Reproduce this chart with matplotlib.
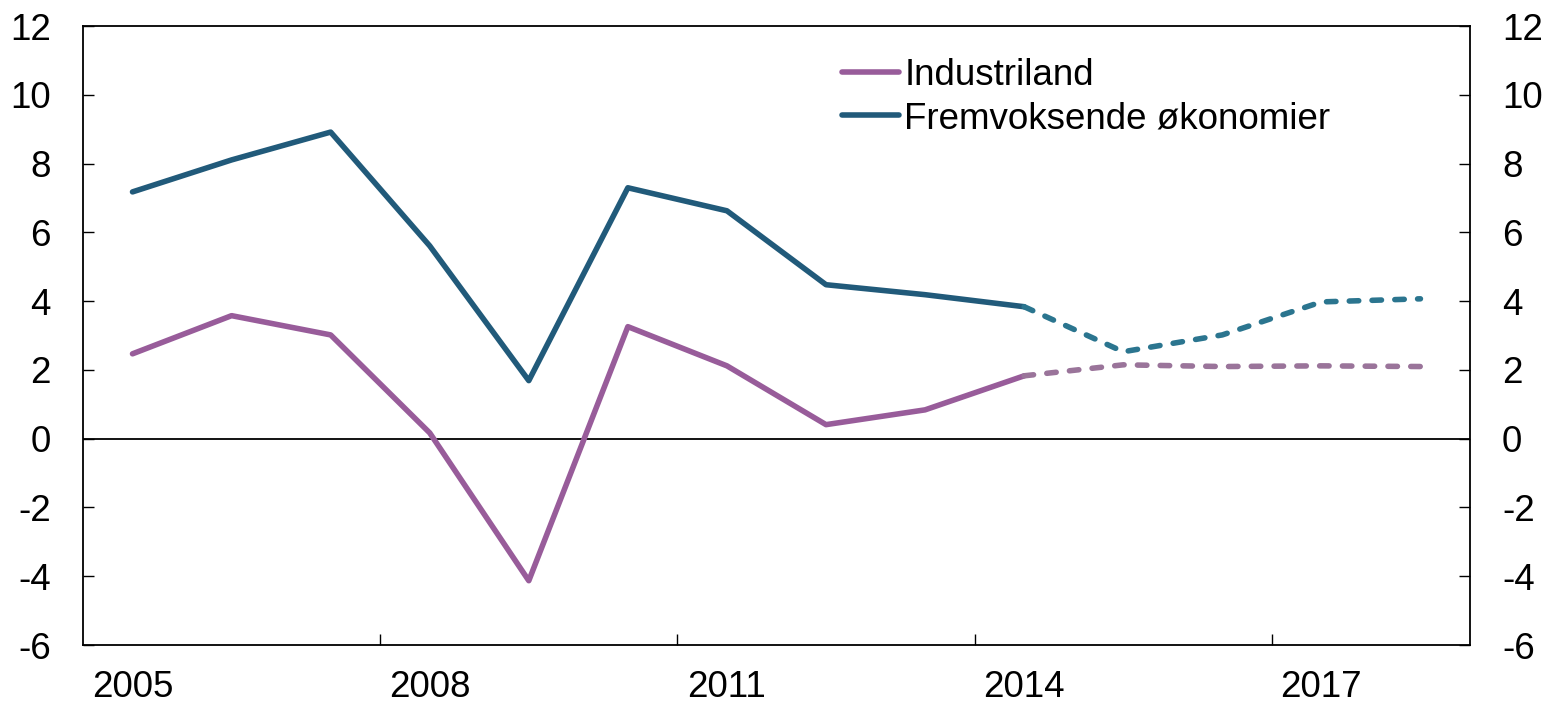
import matplotlib.pyplot as plt

plt.rcParams['font.family'] = ['Liberation Sans', 'DejaVu Sans']
plt.rcParams['axes.unicode_minus'] = False

years = list(range(2005, 2019))
industriland = [2.47, 3.58, 3.02, 0.17, -4.13, 3.26, 2.12, 0.41, 0.84, 1.83, 2.15, 2.10, 2.12, 2.10]
fremvoksende = [7.18, 8.11, 8.92, 5.61, 1.69, 7.30, 6.63, 4.48, 4.19, 3.84, 2.53, 3.02, 3.98, 4.07]
siste_faktisk = 2014  # prognose etter dette
tick_years = [2005, 2008, 2011, 2014, 2017]

col_ind = '#985c9a'
col_ind_prog = '#9a749a'
col_frem = '#215a7a'
col_frem_prog = '#2b758f'

fig = plt.figure(figsize=(15.48, 7.04), dpi=100)
ax = fig.add_axes([0.0536, 0.0838, 0.896, 0.879])

x = list(range(len(years)))
k = years.index(siste_faktisk)

ax.axhline(0, color='black', lw=1.3, zorder=1)
ax.plot(x[:k + 1], industriland[:k + 1], color=col_ind, lw=4, label='Industriland', solid_capstyle='round')
ax.plot(x[:k + 1], fremvoksende[:k + 1], color=col_frem, lw=4, label='Fremvoksende økonomier', solid_capstyle='round')
ax.plot(x[k:], industriland[k:], color=col_ind_prog, lw=4, dashes=(1.7, 2.4), dash_capstyle='round')
ax.plot(x[k:], fremvoksende[k:], color=col_frem_prog, lw=4, dashes=(1.7, 2.4), dash_capstyle='round')

ax.set_xlim(-0.5, len(years) - 0.5)
ax.set_ylim(-6, 12)
ax.set_yticks(range(-6, 13, 2))
ax.tick_params(axis='y', direction='in', length=8, width=1, labelsize=26.5, pad=23,
               right=True, labelright=True)

ax.set_xticks([years.index(y) for y in tick_years])
ax.set_xticklabels([str(y) for y in tick_years])
ax.set_xticks([2.5, 5.5, 8.5, 11.5], minor=True)
ax.tick_params(axis='x', which='major', length=0, labelsize=26.5, pad=18)
ax.tick_params(axis='x', which='minor', direction='in', length=8, width=1)

for s in ax.spines.values():
    s.set_linewidth(1.3)

ax.legend(loc='upper left', bbox_to_anchor=(0.5285, 0.99), frameon=False, fontsize=26.5,
          handlelength=1.55, handletextpad=0.15, labelspacing=0.22, borderaxespad=0.3)

fig.savefig('out.png', dpi=100)
